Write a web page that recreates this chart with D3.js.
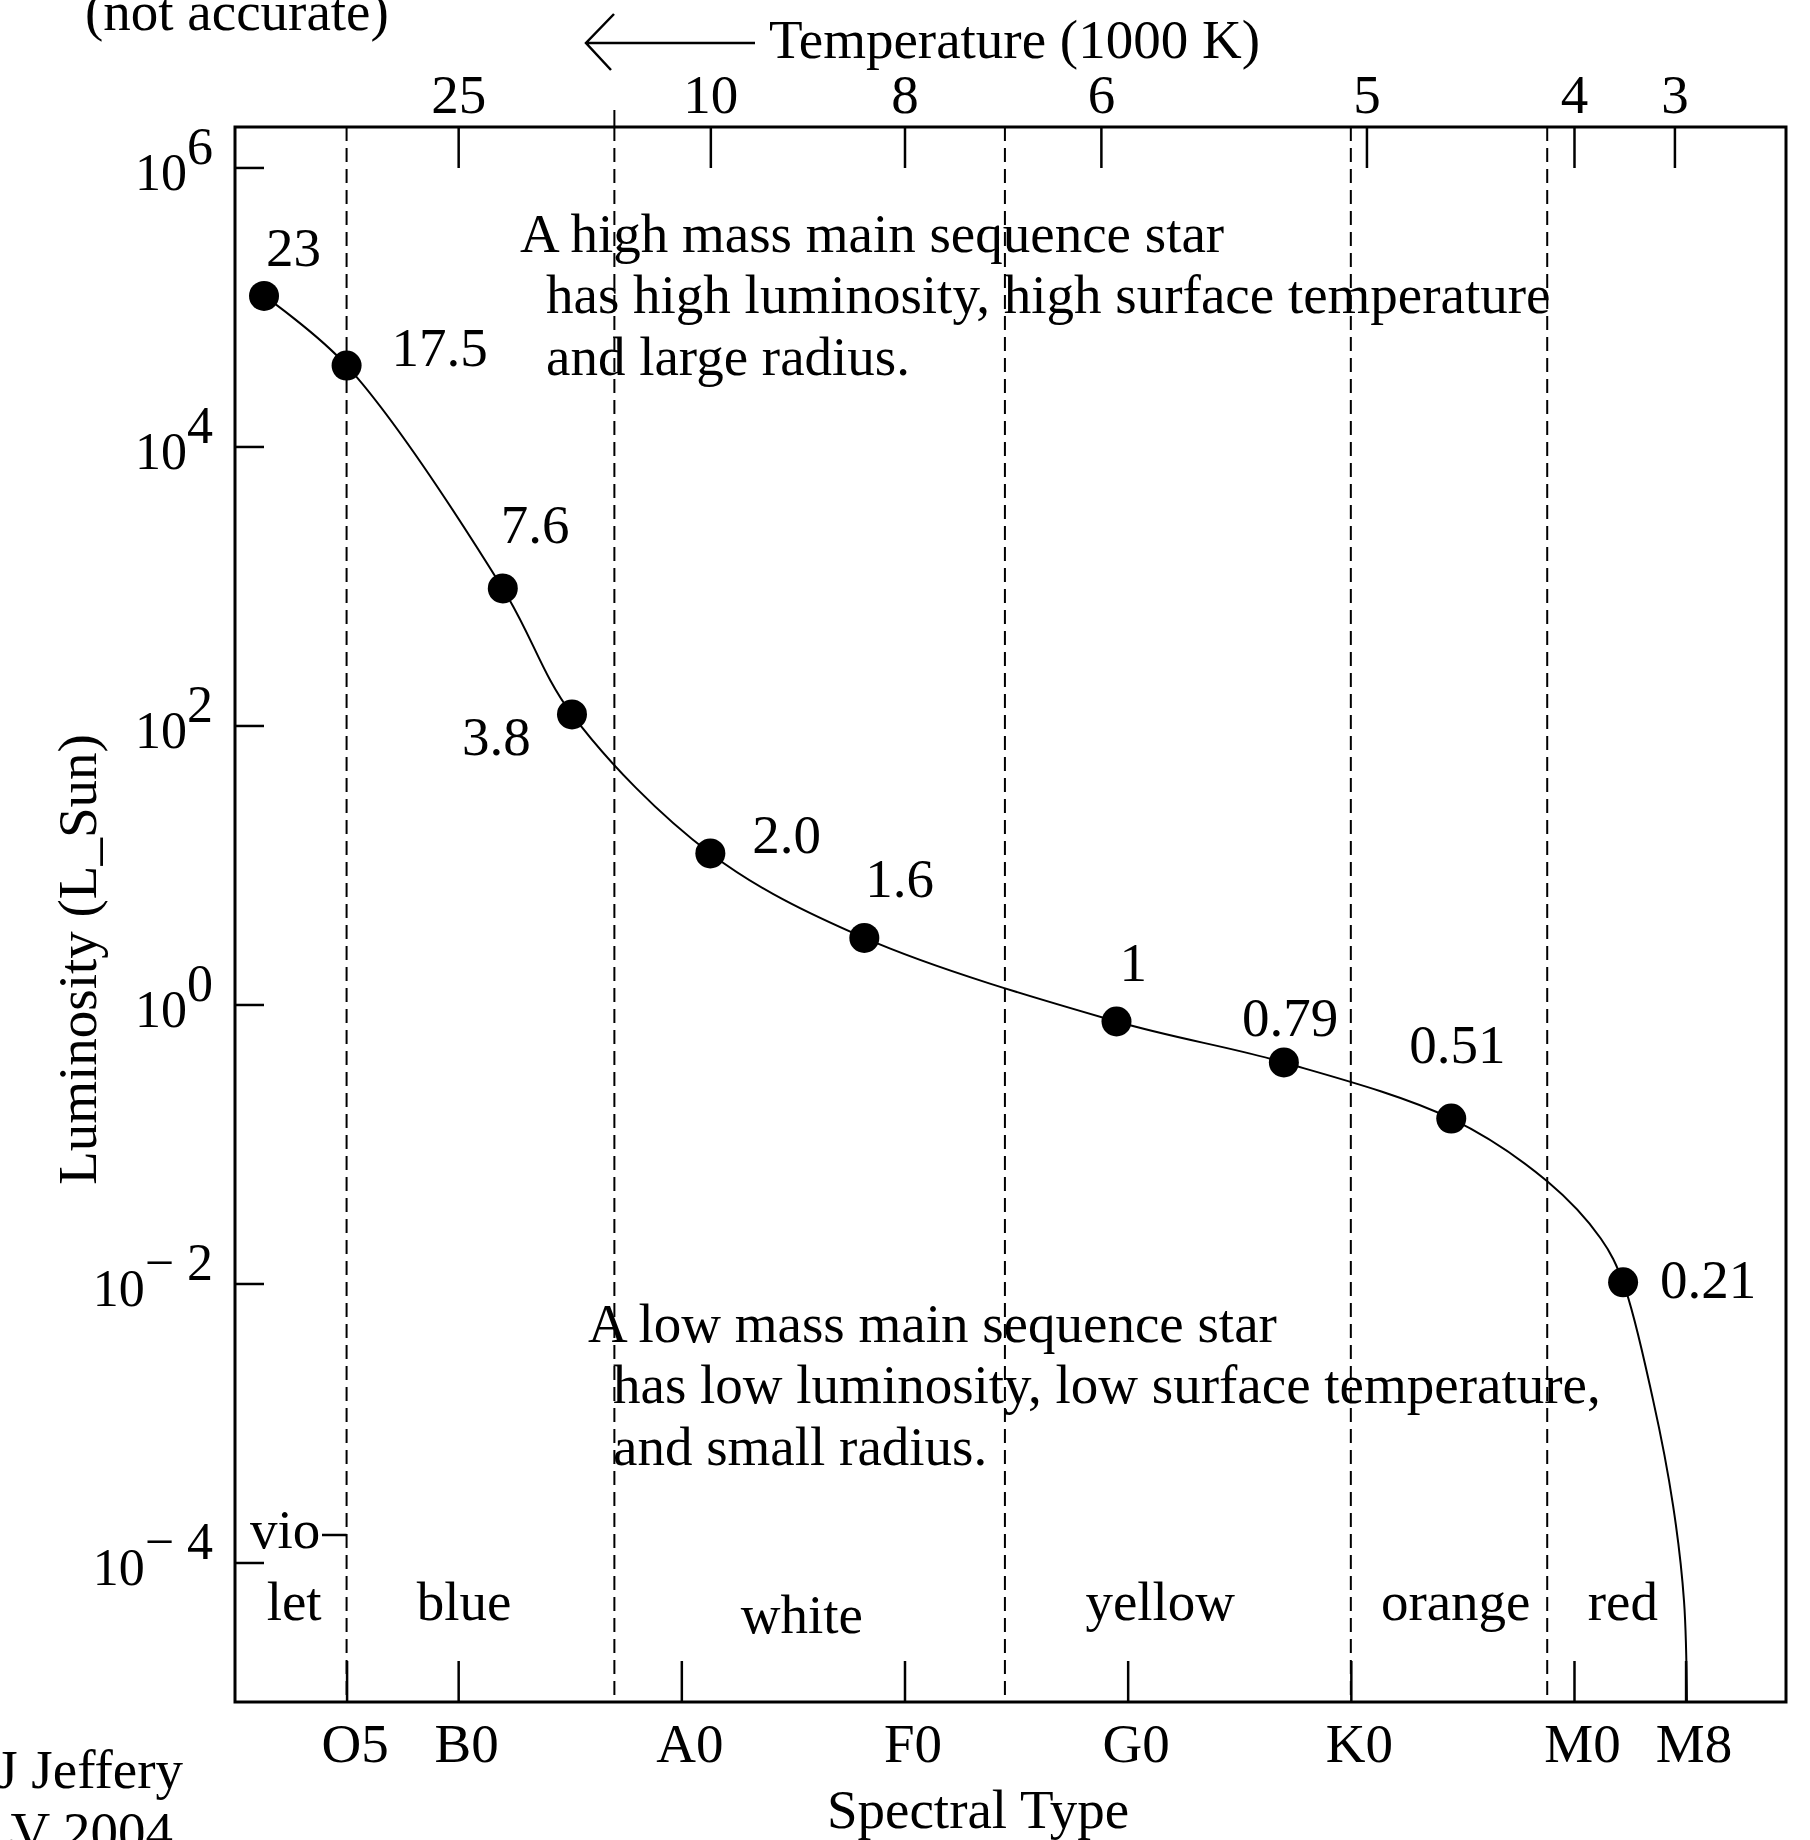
<!DOCTYPE html>
<html>
<head>
<meta charset="utf-8">
<script src="https://cdn.jsdelivr.net/npm/d3@7"></script>
<style>
  body { margin: 0; background: #fff; }
  text { font-family: "Liberation Serif", "Times New Roman", serif; fill: #000; }
</style>
</head>
<body>
<div id="container"></div>
<script>
/* DATA */
// main sequence stars: mass labels, spectral position (O0 = 0, B0 = 1, ... M0 = 6), luminosity
const massLabels = ["23", "17.5", "7.6", "3.8", "2.0", "1.6", "1", "0.79", "0.51", "0.21"];
const massPos = [0.13, 0.5, 1.2, 1.51, 2.13, 2.82, 3.95, 4.7, 5.45, 6.22];
const massLum = [1.2e5, 3.8e4, 960, 120, 12.1, 3.0, 0.755, 0.384, 0.152, 0.0102];

// extra traced points of the curve (bend before 0.21 and the tail to M8)
const bendPos = [5.88, 6.12];
const bendLum = [0.054, 0.021];
const tailPos = [6.354, 6.444, 6.493, 6.506];
const tailLum = [1.47e-3, 2.56e-4, 5.3e-5, 1e-5];

// bottom axis: spectral type
const specLabels = ["O5", "B0", "A0", "F0", "G0", "K0", "M0", "M8"];
const specPos = [0.5, 1, 2, 3, 4, 5, 6, 6.5];

// top axis: temperature (1000 K)
const tempLabels = ["25", "10", "8", "6", "5", "4", "3"];
const tempPos = [1, 2.13, 3, 3.88, 5.07, 6, 6.45];

// left axis
const lumTicks = [1e6, 1e4, 1e2, 1, 1e-2, 1e-4];

// colour bands
const colourBounds = [0.5, 1.7, 3.45, 5.0, 5.88];
const colourNames = ["vio", "let", "blue", "white", "yellow", "orange", "red"];
const colourPos = [0.225, 0.265, 1.027, 2.54, 4.146, 5.47, 6.219];

/* LAYOUT */
const width = 1810, height = 1840;
const frame = {left: 235, right: 1786, top: 127, bottom: 1702};
const fontSize = 55;
const labelDx = [2, 45, -2, -110, 42, 1, 3, -42, -42, 37];
const labelDy = [-30, 0, -45, 41, 0, -41, -41, -26, -56, 16];
const bandDy = [-154, -82, -82, -69, -82, -82, -82];

/* SCALES */
const xScale = d3.scaleLinear()
  .domain([0, 6.95])
  .range([frame.left, frame.right]);

const yScale = d3.scaleLog()
  .domain([1e-5, Math.pow(10, 6.29)])
  .range([frame.bottom, frame.top]);

const svg = d3.select("#container")
  .append("svg")
    .attr("width", width)
    .attr("height", height);

/* COLOUR BAND BOUNDARIES */
svg.selectAll("line.bound")
  .data(colourBounds)
  .join("line")
    .attr("class", "bound")
    .attr("x1", d => xScale(d))
    .attr("x2", d => xScale(d))
    .attr("y1", frame.top)
    .attr("y2", frame.bottom)
    .attr("stroke", "#000")
    .attr("stroke-width", 2)
    .attr("stroke-dasharray", "14,7");

// small stub above the frame on the blue/white boundary
svg.append("line")
  .attr("x1", xScale(colourBounds[1]))
  .attr("x2", xScale(colourBounds[1]))
  .attr("y1", frame.top - 17)
  .attr("y2", frame.top)
  .attr("stroke", "#000")
  .attr("stroke-width", 2);

/* AXES */
const axisFont = g => g
  .attr("font-family", "'Liberation Serif', 'Times New Roman', serif")
  .attr("font-size", fontSize)
  .call(g => g.select(".domain").remove())
  .call(g => g.selectAll(".tick line").attr("stroke-width", 2.5));

svg.append("g")
  .attr("transform", `translate(0,${frame.top})`)
  .call(d3.axisTop(xScale)
    .tickValues(tempPos)
    .tickFormat((d, i) => tempLabels[i])
    .tickSize(-41)
    .tickPadding(14))
  .call(axisFont);

svg.append("g")
  .attr("transform", `translate(0,${frame.bottom})`)
  .call(d3.axisBottom(xScale)
    .tickValues(specPos)
    .tickFormat((d, i) => specLabels[i])
    .tickSize(-41)
    .tickPadding(21))
  .call(axisFont)
  .call(g => g.selectAll(".tick text").attr("dx", 8));

const yAxisG = svg.append("g")
  .attr("transform", `translate(${frame.left},0)`)
  .call(d3.axisLeft(yScale)
    .tickValues(lumTicks)
    .tickFormat("")
    .tickSize(-29))
  .call(axisFont);

yAxisG.selectAll(".tick text").remove();
yAxisG.selectAll(".tick")
  .append("text")
    .attr("x", -22)
    .attr("y", 22)
    .attr("text-anchor", "end")
    .attr("font-size", 52)
    .attr("fill", "#000")
    .each(function(d) {
      const e = Math.round(Math.log10(d));
      const t = d3.select(this);
      t.append("tspan").text("10");
      t.append("tspan")
        .attr("dy", -26)
        .text(e < 0 ? "\u2212 " + (-e) : String(e));
    });

/* FRAME */
svg.append("rect")
  .attr("x", frame.left)
  .attr("y", frame.top)
  .attr("width", frame.right - frame.left)
  .attr("height", frame.bottom - frame.top)
  .attr("fill", "none")
  .attr("stroke", "#000")
  .attr("stroke-width", 3);

/* MAIN SEQUENCE CURVE */
const stars = massPos.map((p, i) => ({pos: p, lum: massLum[i], label: massLabels[i]}));
const curvePts = stars
  .concat(bendPos.map((p, i) => ({pos: p, lum: bendLum[i]})))
  .concat(tailPos.map((p, i) => ({pos: p, lum: tailLum[i]})))
  .sort((a, b) => a.pos - b.pos);

const lineGen = d3.line()
  .x(d => xScale(d.pos))
  .y(d => yScale(d.lum))
  .curve(d3.curveCatmullRom.alpha(0.5));

svg.append("path")
  .datum(curvePts)
  .attr("d", lineGen)
  .attr("fill", "none")
  .attr("stroke", "#000")
  .attr("stroke-width", 2);

svg.selectAll("circle.star")
  .data(stars)
  .join("circle")
    .attr("class", "star")
    .attr("cx", d => xScale(d.pos))
    .attr("cy", d => yScale(d.lum))
    .attr("r", 15)
    .attr("fill", "#000");

svg.selectAll("text.mass")
  .data(stars)
  .join("text")
    .attr("class", "mass")
    .attr("x", (d, i) => xScale(d.pos) + labelDx[i])
    .attr("y", (d, i) => yScale(d.lum) + labelDy[i])
    .attr("font-size", fontSize)
    .text(d => d.label);

/* COLOUR NAMES */
svg.selectAll("text.band")
  .data(colourNames)
  .join("text")
    .attr("class", "band")
    .attr("x", (d, i) => xScale(colourPos[i]))
    .attr("y", (d, i) => frame.bottom + bandDy[i])
    .attr("text-anchor", "middle")
    .attr("font-size", fontSize)
    .text(d => d);

// "vio-" connector to the O5 boundary
svg.append("line")
  .attr("x1", 322).attr("x2", xScale(colourBounds[0]))
  .attr("y1", 1535).attr("y2", 1535)
  .attr("stroke", "#000")
  .attr("stroke-width", 2.5);

/* ANNOTATIONS */
const notes = [
  {x: 520, y: 252, t: "A high mass main sequence star"},
  {x: 546, y: 313, t: "has high luminosity, high surface temperature"},
  {x: 546, y: 375, t: "and large radius."},
  {x: 588, y: 1342, t: "A low mass main sequence star"},
  {x: 613, y: 1403, t: "has low luminosity, low surface temperature,"},
  {x: 613, y: 1465, t: "and small radius."}
];
svg.selectAll("text.note")
  .data(notes)
  .join("text")
    .attr("class", "note")
    .attr("x", d => d.x)
    .attr("y", d => d.y)
    .attr("font-size", fontSize)
    .text(d => d.t);

/* TITLES */
svg.append("text")
  .attr("x", 769).attr("y", 58)
  .attr("font-size", fontSize)
  .text("Temperature (1000 K)");

// arrow pointing to hot stars
svg.append("path")
  .attr("d", "M755,43 L586,43 M614,14 L586,43 L611,70")
  .attr("fill", "none")
  .attr("stroke", "#000")
  .attr("stroke-width", 2.5);

svg.append("text")
  .attr("x", 85).attr("y", 30)
  .attr("font-size", fontSize)
  .text("(not accurate)");

svg.append("text")
  .attr("transform", `translate(96,${(frame.top + frame.bottom) / 2 + 45}) rotate(-90)`)
  .attr("text-anchor", "middle")
  .attr("font-size", fontSize)
  .text("Luminosity (L_Sun)");

svg.append("text")
  .attr("x", 978).attr("y", 1828)
  .attr("text-anchor", "middle")
  .attr("font-size", fontSize)
  .text("Spectral Type");

svg.append("text")
  .attr("x", 183).attr("y", 1788)
  .attr("text-anchor", "end")
  .attr("font-size", fontSize)
  .text("David J Jeffery");

svg.append("text")
  .attr("x", 173).attr("y", 1850)
  .attr("text-anchor", "end")
  .attr("font-size", fontSize)
  .text("UNLV 2004");
</script>
</body>
</html>
